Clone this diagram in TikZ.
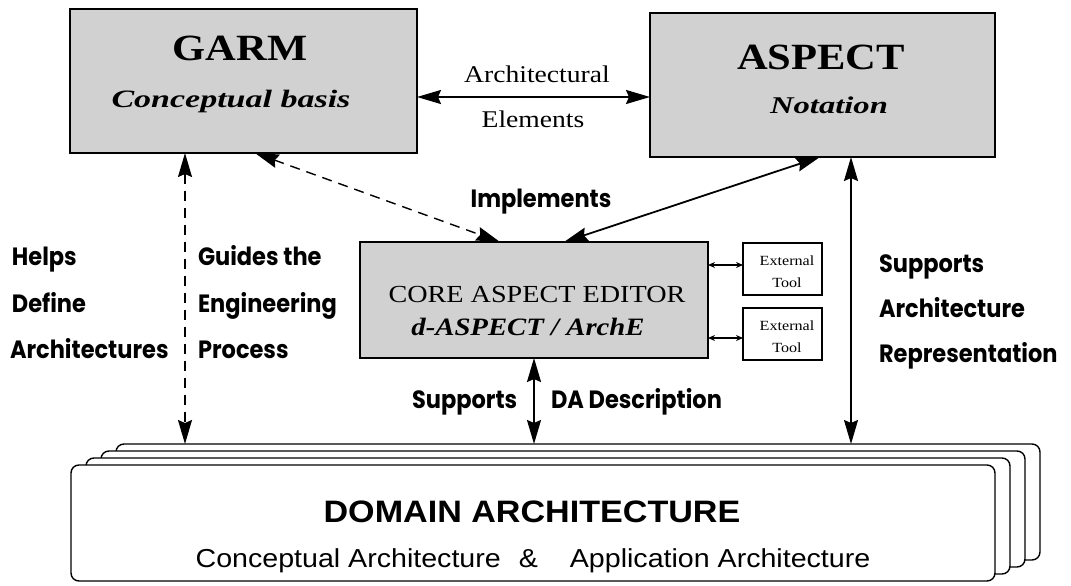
\documentclass[tikz,border=0pt]{standalone}
\usepackage{fontspec}
\setmainfont{Liberation Serif}
\newfontfamily\srf[FakeStretch=1.15]{Liberation Serif}
\newfontfamily\srfbi[FakeStretch=1.36]{Liberation Serif}
\newfontfamily\hv[FakeStretch=1.1]{Liberation Sans}
\newfontfamily\fut[FakeStretch=0.9]{Poppins}
\usetikzlibrary{arrows.meta}
\newcommand{\fsz}[1]{\fontsize{#1}{#1}\selectfont}
\begin{document}
\begin{tikzpicture}[x=1pt,y=-1pt,
  box/.style={draw, line width=1.8pt, fill=black!18, inner sep=0pt, outer sep=0pt},
  toolbox/.style={draw, line width=1.2pt, fill=white, inner sep=0pt, outer sep=0pt, minimum width=79pt, minimum height=52pt},
  layer/.style={draw, line width=1.4pt, fill=white, rounded corners=8pt, minimum width=924pt, minimum height=116pt, inner sep=0pt, outer sep=0pt},
  txt/.style={inner sep=0pt, outer sep=0pt, anchor=base},
  lbl/.style={inner sep=0pt, outer sep=0pt, anchor=base west, font=\fut\bfseries\fsz{25}},
  conn/.style={{Stealth[length=24pt,width=14pt,inset=3pt]}-{Stealth[length=24pt,width=14pt,inset=3pt]}, line width=1.8pt},
  dconn/.style={{Stealth[length=24pt,width=14pt,inset=3pt]}-{Stealth[length=24pt,width=14pt,inset=3pt]}, line width=1.4pt, dash pattern=on 10pt off 7pt},
  small/.style={{Stealth[length=7pt,width=6pt]}-{Stealth[length=7pt,width=6pt]}, line width=1.2pt}
]
\useasboundingbox (0,0) rectangle (1071,586);

% boxes
\node[box, minimum width=347pt, minimum height=144pt] (garm) at (243.5,81) {};
\node[box, minimum width=345pt, minimum height=144pt] (aspect) at (822.5,85) {};
\node[box, minimum width=348pt, minimum height=116pt] (core) at (534,300) {};
\node[toolbox] (tool1) at (782.5,269) {};
\node[toolbox] (tool2) at (782.5,334) {};

% domain layers
\node[layer] (dom3) at (578,502) {};
\node[layer] (dom2) at (563,509) {};
\node[layer] (dom1) at (548,516) {};
\node[layer] (dom0) at (533,523) {};

% box texts
\node[txt, font=\srf\bfseries\fsz{37}] (garmT) at (240,60) {GARM};
\node[txt, font=\srfbi\bfseries\itshape\fsz{25}] (garmS) at (231,107) {Conceptual basis};
\node[txt, font=\srf\bfseries\fsz{37}] (aspT) at (821,70) {ASPECT};
\node[txt, font=\srfbi\bfseries\itshape\fsz{24}] (aspS) at (829,113) {Notation};
\node[txt, font=\srf\fsz{24.5}] (coreT) at (537,302) {CORE ASPECT EDITOR};
\node[txt, font=\srf\bfseries\itshape\fsz{25}] (coreS) at (528,335) {d-ASPECT / ArchE};
\node[txt, font=\srf\fsz{14}] (t1a) at (787,265) {External};
\node[txt, font=\srf\fsz{14}] (t1b) at (787,287) {Tool};
\node[txt, font=\srf\fsz{14}] (t2a) at (787,330) {External};
\node[txt, font=\srf\fsz{14}] (t2b) at (787,352) {Tool};
\node[txt, font=\hv\bfseries\fsz{31}] (domT) at (532,522) {DOMAIN ARCHITECTURE};
\node[txt, font=\hv\fsz{26}] (domS) at (533,567) {Conceptual Architecture\hspace{18pt}\&\hspace{32pt}Application Architecture};

% connector labels
\node[txt, font=\srf\fsz{24}] (ae1) at (537,83) {Architectural};
\node[txt, font=\srf\fsz{24}] (ae2) at (533,127) {Elements};
\node[lbl, anchor=base] (impl) at (541,207) {Implements};
\node[lbl] (h1) at (12,265) {Helps};
\node[lbl] (h2) at (12,312) {Define};
\node[lbl] (h3) at (10,358) {Architectures};
\node[lbl] (g1) at (198,265) {Guides the};
\node[lbl] (g2) at (198,312) {Engineering};
\node[lbl] (g3) at (198,358) {Process};
\node[lbl] (s1) at (879,272) {Supports};
\node[lbl] (s2) at (879,317) {Architecture};
\node[lbl] (s3) at (879,362) {Representation};
\node[lbl] (sup) at (412,408) {Supports};
\node[lbl] (dad) at (551,408) {DA Description};

% connector coordinates
\coordinate (aey) at (533,97);
\coordinate (gx) at (255,0);
\coordinate (cx1) at (500,0);
\coordinate (ax1) at (820,0);
\coordinate (cx2) at (564,0);
\coordinate (hx) at (185,0);
\coordinate (ax2) at (851,0);
\coordinate (t1y) at (0,265);
\coordinate (t2y) at (0,338);

% connectors
\draw[conn] (garm.east |- aey) -- (aspect.west |- aey);
\draw[dconn] (garm.south -| gx) -- (core.north -| cx1);
\draw[conn] (aspect.south -| ax1) -- (core.north -| cx2);
\draw[dconn] (garm.south -| hx) -- (dom3.north -| hx);
\draw[conn] (core.south) -- (dom3.north -| core.south);
\draw[conn] (aspect.south -| ax2) -- (dom3.north -| ax2);
\draw[small] (core.east |- t1y) -- (tool1.west |- t1y);
\draw[small] (core.east |- t2y) -- (tool2.west |- t2y);
\end{tikzpicture}
\end{document}
